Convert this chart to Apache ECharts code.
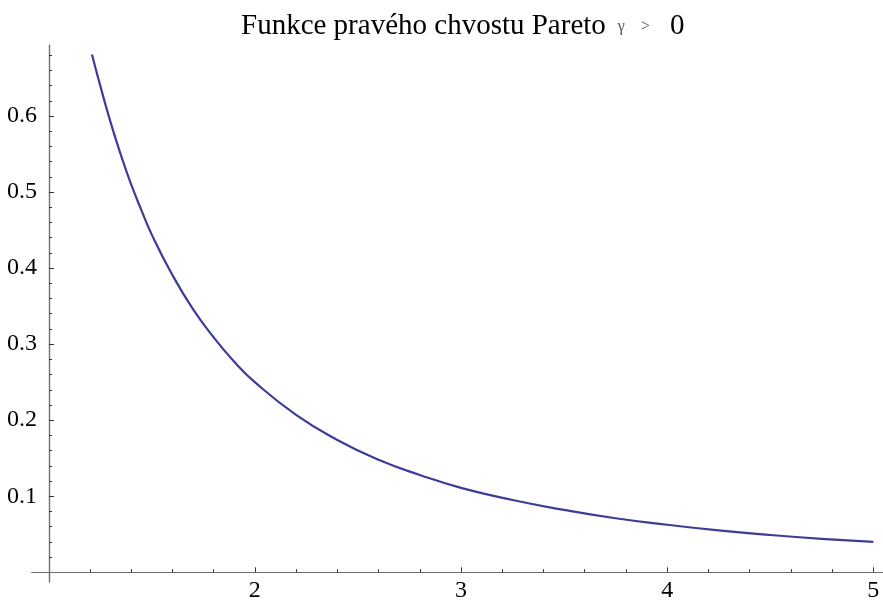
<!DOCTYPE html>
<html>
<head>
<meta charset="utf-8">
<script src="https://cdn.jsdelivr.net/npm/echarts@6/dist/echarts.min.js"></script>
<style>
  html, body { margin: 0; padding: 0; background: #fff; }
  #chart { width: 883px; height: 600px; }
</style>
</head>
<body>
<div id="chart"></div>
<script>
// Right tail function of the Pareto distribution, sampled along x
const xValues = [1.21, 1.25, 1.3, 1.35, 1.4, 1.45, 1.5, 1.6, 1.7, 1.8, 1.9, 2.0,
                 2.2, 2.4, 2.6, 2.8, 3.0, 3.25, 3.5, 3.75, 4.0, 4.25, 4.5, 4.75, 5.0];
const tailValues = [0.681, 0.640, 0.592, 0.549, 0.510, 0.476, 0.444, 0.391, 0.346, 0.309, 0.277, 0.250,
                    0.207, 0.174, 0.148, 0.128, 0.111, 0.095, 0.082, 0.071, 0.0625, 0.055, 0.049, 0.044, 0.040];

// Axis ticks and labels
const xMajorTicks = [2, 3, 4, 5];
const xMinorTicks = [1.2, 1.4, 1.6, 1.8, 2.2, 2.4, 2.6, 2.8, 3.2, 3.4, 3.6, 3.8, 4.2, 4.4, 4.6, 4.8];
const yMajorTicks = [0.1, 0.2, 0.3, 0.4, 0.5, 0.6];
const yMinorTicks = [0.02, 0.04, 0.06, 0.08, 0.12, 0.14, 0.16, 0.18, 0.22, 0.24, 0.26, 0.28,
                     0.32, 0.34, 0.36, 0.38, 0.42, 0.44, 0.46, 0.48, 0.52, 0.54, 0.56, 0.58,
                     0.62, 0.64, 0.66, 0.68];

const titleMain = 'Funkce pravého chvostu Pareto';
const titleCond = ['γ', '>', '0'];

const FONT = '"Liberation Serif", "Times New Roman", serif';
const AXIS_COLOR = '#6e6e6e';
const TICK_COLOR = '#333';

const chart = echarts.init(document.getElementById('chart'), null, { renderer: 'canvas' });

function xAxisDef(ticks, len, showLabels) {
  return {
    type: 'value', min: 0.919, max: 5.047, position: 'bottom',
    axisLine: { show: true, onZero: true, lineStyle: { color: AXIS_COLOR, width: 1.2 } },
    axisTick: { show: true, inside: true, length: len, customValues: ticks,
                lineStyle: { color: TICK_COLOR, width: 1 } },
    axisLabel: { show: showLabels, customValues: ticks, margin: -3,
                 fontFamily: FONT, fontSize: 24, color: '#000' },
    splitLine: { show: false }
  };
}

function yAxisDef(ticks, len, showLabels) {
  return {
    type: 'value', min: -0.0128, max: 0.6934, position: 'left', offset: -17,
    axisLine: { show: true, lineStyle: { color: AXIS_COLOR, width: 1.2 } },
    axisTick: { show: true, inside: true, length: len, customValues: ticks,
                lineStyle: { color: TICK_COLOR, width: 1 } },
    axisLabel: { show: showLabels, customValues: ticks, margin: 12,
                 fontFamily: FONT, fontSize: 24, color: '#000' },
    splitLine: { show: false }
  };
}

chart.setOption({
  animation: false,
  backgroundColor: '#fff',
  title: {
    text: '{t|' + titleMain + '}{g|' + titleCond[0] + '}{s|' + titleCond[1] + '}{z|' + titleCond[2] + '}',
    left: 236, top: 7,
    textStyle: {
      fontWeight: 'normal',
      rich: {
        t: { fontFamily: FONT, fontSize: 29, fontWeight: 'normal', color: '#000' },
        g: { fontFamily: FONT, fontSize: 16, fontWeight: 'normal', color: '#555', padding: [0, 0, 0, 12] },
        s: { fontFamily: FONT, fontSize: 16, fontWeight: 'normal', color: '#555', padding: [0, 0, 0, 16] },
        z: { fontFamily: FONT, fontSize: 29, fontWeight: 'normal', color: '#000', padding: [0, 0, 0, 20] }
      }
    }
  },
  grid: { left: 32, right: 0, top: 45, bottom: 18, outerBoundsMode: 'none', containLabel: false },
  xAxis: [xAxisDef(xMajorTicks, 5, true), xAxisDef(xMinorTicks, 3, false)],
  yAxis: [yAxisDef(yMajorTicks, 5, true), yAxisDef(yMinorTicks, 3, false)],
  series: [{
    type: 'line',
    data: xValues.map((x, i) => [x, tailValues[i]]),
    smooth: true,
    showSymbol: false,
    lineStyle: { color: '#3d3d99', width: 2.2 },
    clip: true
  }]
});
</script>
</body>
</html>
